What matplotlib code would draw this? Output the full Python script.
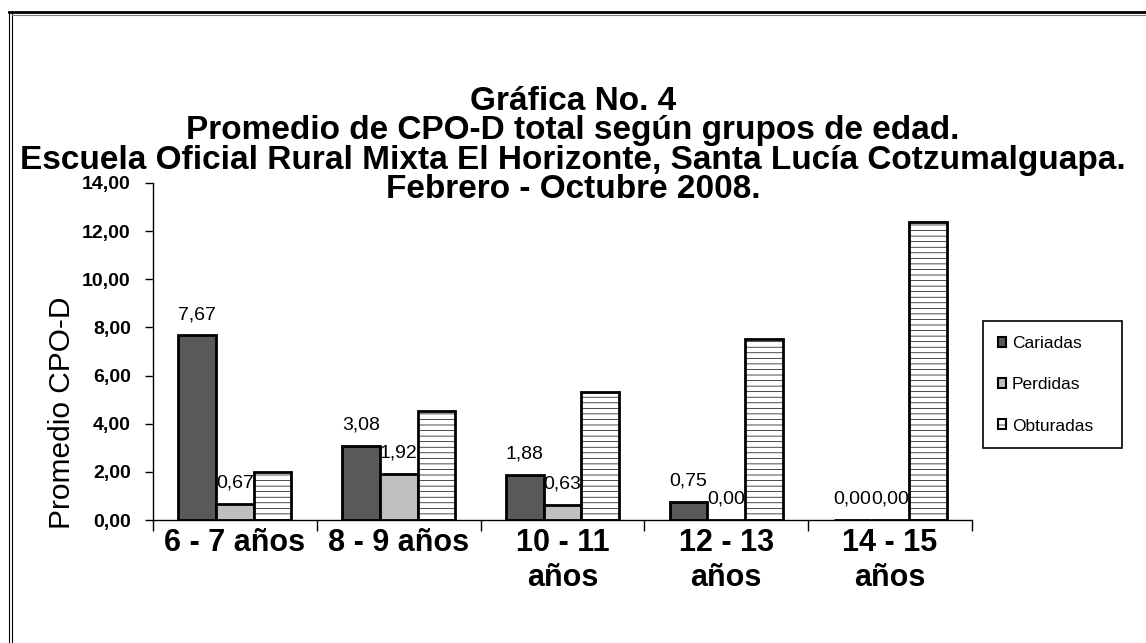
import matplotlib
matplotlib.use('Agg')
import matplotlib.pyplot as plt
import numpy as np
from matplotlib.ticker import FuncFormatter, FixedLocator
from matplotlib.lines import Line2D

plt.rcParams['font.family'] = ['Liberation Sans', 'DejaVu Sans']
plt.rcParams['hatch.linewidth'] = 0.5

# datos
grupos = ['6 - 7 años', '8 - 9 años', '10 - 11\naños', '12 - 13\naños', '14 - 15\naños']
cariadas = [7.67, 3.08, 1.88, 0.75, 0.00]
perdidas = [0.67, 1.92, 0.63, 0.00, 0.00]
obturadas = [2.00, 4.54, 5.31, 7.50, 12.38]

titulo = ['Gráfica No. 4',
          'Promedio de CPO-D total según grupos de edad.',
          'Escuela Oficial Rural Mixta El Horizonte, Santa Lucía Cotzumalguapa.',
          'Febrero - Octubre 2008.']

W, H = 1146, 643
fig = plt.figure(figsize=(W / 100, H / 100), dpi=100)
ax = fig.add_axes([153 / W, 1 - 520 / H, (972 - 153) / W, (520 - 183) / H])

x = np.arange(len(grupos))
w = 0.23
b1 = ax.bar(x - w, cariadas, w, color='#595959', edgecolor='black', linewidth=2, zorder=3, label='Cariadas')
b2 = ax.bar(x, perdidas, w, color='#bfbfbf', edgecolor='black', linewidth=2, zorder=3, label='Perdidas')
b3 = ax.bar(x + w, obturadas, w, color='white', edgecolor='black', linewidth=2, zorder=3,
            hatch='---', label='Obturadas')

def coma(v):
    return f'{v:.2f}'.replace('.', ',')

# etiquetas de datos (quedan detras de las barras, como en el original)
for barras, vals in ((b1, cariadas), (b2, perdidas)):
    for r, v in zip(barras, vals):
        ax.annotate(coma(v), (r.get_x() + r.get_width() / 2, r.get_height()),
                    xytext=(0, 15), textcoords='offset points', ha='center', va='center',
                    fontsize=14, zorder=2)

ax.set_xlim(-0.5, len(grupos) - 0.5)
ax.set_ylim(0, 14)
ax.yaxis.set_major_locator(FixedLocator(np.arange(0, 15, 2)))
ax.yaxis.set_major_formatter(FuncFormatter(lambda v, p: coma(v)))
ax.set_xticks(x)
ax.set_xticklabels(grupos, fontsize=22, fontweight='bold', linespacing=1.2)
ax.set_xticks(np.arange(-0.5, len(grupos)), minor=True)
ax.tick_params(axis='x', which='major', length=0, pad=6)
ax.tick_params(axis='x', which='minor', length=8, width=1)
ax.tick_params(axis='y', length=6, width=1, pad=10, labelsize=14)
for t in ax.get_yticklabels():
    t.set_fontweight('bold')
for s in ('top', 'right'):
    ax.spines[s].set_visible(False)
for s in ('left', 'bottom'):
    ax.spines[s].set_linewidth(1)
ax.set_ylabel('Promedio CPO-D', fontsize=21.5)
ax.yaxis.set_label_coords((62 - 153) / (972 - 153), (520 - 413) / (520 - 183))
ax.yaxis.label.set_va('center')

ys = [102, 131, 160, 189]
for t, y in zip(titulo, ys):
    fig.text(0.5, 1 - y / H, t, ha='center', va='center', fontsize=24, fontweight='bold')

leg = fig.legend(handles=[b1, b2, b3], loc='upper left',
                 bbox_to_anchor=(983 / W, 1 - 321 / H, (1122 - 983) / W, 0), mode='expand',
                 fontsize=12.5, labelspacing=1.52, handlelength=0.5, handleheight=0.5,
                 handletextpad=0.3, borderpad=0.85, borderaxespad=0, fancybox=False,
                 framealpha=1, edgecolor='black')
leg.get_frame().set_linewidth(1.2)
for h in leg.legend_handles:
    h.set_linewidth(1.5)

# marco exterior
fig.add_artist(Line2D([9 / W, 9 / W], [0, 1 - 12 / H], color='black', linewidth=0.8))
fig.add_artist(Line2D([12 / W, 12 / W], [0, 1 - 14 / H], color='black', linewidth=0.8))
fig.add_artist(Line2D([9 / W, 1], [1 - 12 / H, 1 - 12 / H], color='black', linewidth=2))
fig.add_artist(Line2D([12 / W, 1], [1 - 14.5 / H, 1 - 14.5 / H], color='gray', linewidth=0.8))

fig.savefig('out.png', dpi=100)
